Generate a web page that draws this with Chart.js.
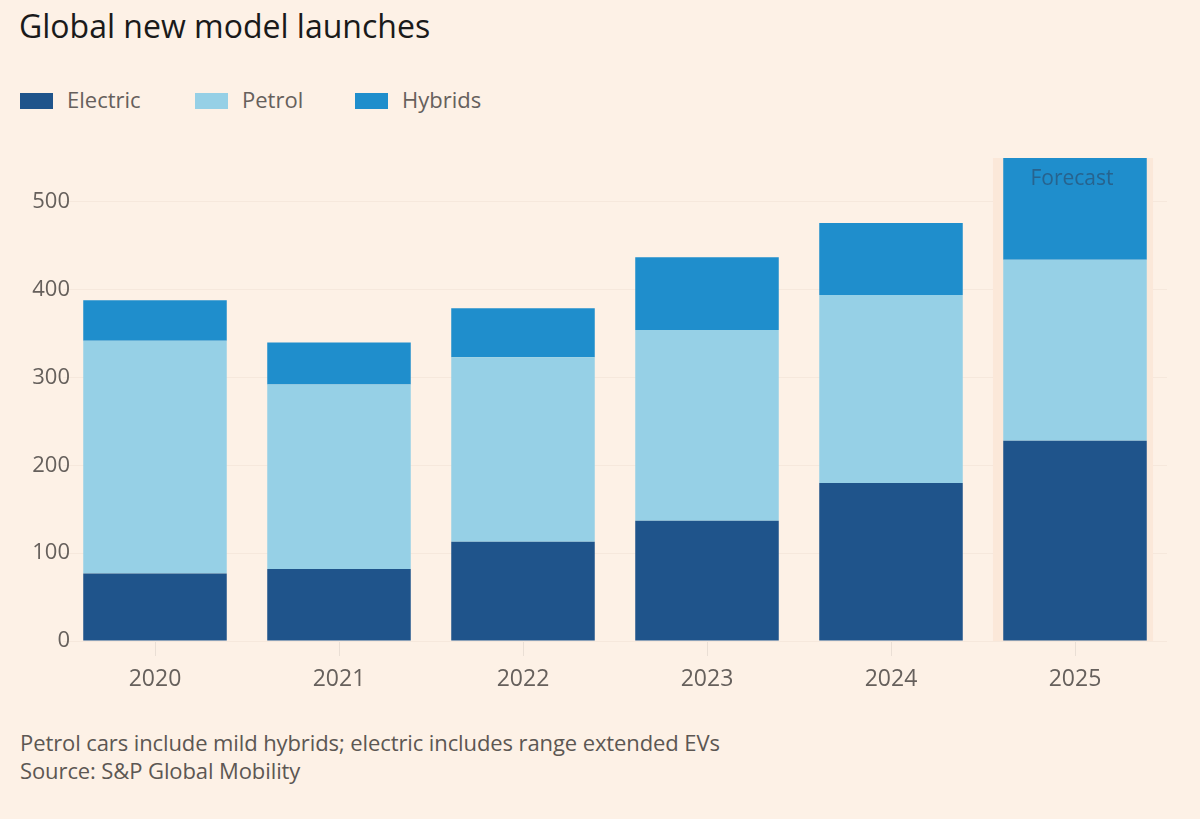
<!DOCTYPE html>
<html lang="en">
  <head>
    <meta charset="utf-8" />
    <title>Global new model launches</title>
    <style>
      * {
        margin: 0;
        padding: 0;
      }
      body {
        width: 1200px;
        height: 819px;
        background: #fdf1e6;
        font-family: "Open Sans", sans-serif;
        position: relative;
        overflow: hidden;
      }
      .title {
        position: absolute;
        left: 19px;
        top: 4px;
        font-size: 32px;
        color: #1a1a1a;
      }
      .legend {
        position: absolute;
        top: 84px;
        left: 20px;
        height: 30px;
        font-size: 22px;
        color: #66605c;
      }
      .legend span {
        position: absolute;
        top: 0;
        white-space: nowrap;
        line-height: 30px;
      }
      .legend i {
        display: inline-block;
        width: 33px;
        height: 16px;
        vertical-align: -1px;
        margin-right: 14px;
      }
      .chartBox {
        position: absolute;
        left: 0;
        top: 130px;
        width: 1200px;
        height: 580px;
      }
      .notes {
        position: absolute;
        left: 20px;
        top: 728px;
        font-size: 22px;
        line-height: 28px;
        color: #5c5753;
        letter-spacing: -0.1px;
      }
    </style>
  </head>
  <body>
    <div class="title">Global new model launches</div>
    <div class="legend" id="legend"></div>
    <div class="chartBox">
      <canvas id="myChart"></canvas>
    </div>
    <div class="notes">
      Petrol cars include mild hybrids; electric includes range extended EVs<br />
      Source: S&amp;P Global Mobility
    </div>

    <script src="https://cdn.jsdelivr.net/npm/chart.js@4/dist/chart.umd.min.js"></script>

    <script>
      // data block
      const years = ["2020", "2021", "2022", "2023", "2024", "2025"];
      const electric = [77, 82, 113, 137, 180, 228];
      const petrol = [265, 210, 210, 217, 214, 206];
      const hybrids = [46, 48, 56, 83, 82, 116];
      const yTicks = [0, 100, 200, 300, 400, 500];
      const forecastYear = "2025";

      const colors = {
        Electric: "#1f548b",
        Petrol: "#96d0e6",
        Hybrids: "#1f8ecc",
      };

      // html legend
      const legendPos = { Electric: 0, Petrol: 175, Hybrids: 335 };
      const legendEl = document.getElementById("legend");
      Object.keys(legendPos).forEach((name) => {
        const s = document.createElement("span");
        s.style.left = legendPos[name] + "px";
        s.innerHTML = '<i style="background:' + colors[name] + '"></i>' + name;
        legendEl.appendChild(s);
      });

      // shaded forecast column + label
      const forecastPlugin = {
        id: "forecast",
        beforeDatasetsDraw(chart) {
          const { ctx, chartArea, scales } = chart;
          const i = years.indexOf(forecastYear);
          const xc = scales.x.getPixelForValue(i);
          const w = (scales.x.width / years.length) * 0.87;
          ctx.save();
          ctx.fillStyle = "#fbe8d9";
          ctx.fillRect(xc - w / 2 - 2, chartArea.top, w, chartArea.bottom - chartArea.top);
          ctx.restore();
        },
        afterDatasetsDraw(chart) {
          const { ctx, scales } = chart;
          const i = years.indexOf(forecastYear);
          const total = electric[i] + petrol[i] + hybrids[i];
          const xc = scales.x.getPixelForValue(i);
          const yTop = scales.y.getPixelForValue(total);
          ctx.save();
          ctx.font = '21px "Open Sans", sans-serif';
          ctx.fillStyle = "rgba(45, 70, 100, 0.6)";
          ctx.textAlign = "center";
          ctx.textBaseline = "middle";
          ctx.fillText("Forecast", xc - 3, yTop + 21);
          ctx.restore();
        },
      };

      // y labels sit slightly over the plot edge, so draw them without the axis clip
      const yLabelPlugin = {
        id: "yLabels",
        afterDraw(chart) {
          const { ctx, scales } = chart;
          const y = scales.y;
          ctx.save();
          ctx.font = '22px "Open Sans", sans-serif';
          ctx.fillStyle = "#66605c";
          ctx.textAlign = "right";
          ctx.textBaseline = "middle";
          y.ticks.forEach((t) => {
            ctx.fillText(String(t.value), y.right + 7, y.getPixelForValue(t.value));
          });
          ctx.restore();
        },
      };

      const data = {
        labels: years,
        datasets: [
          { label: "Electric", data: electric, backgroundColor: colors.Electric },
          { label: "Petrol", data: petrol, backgroundColor: colors.Petrol },
          { label: "Hybrids", data: hybrids, backgroundColor: colors.Hybrids },
        ],
      };

      // config block
      const config = {
        type: "bar",
        data: data,
        plugins: [forecastPlugin, yLabelPlugin],
        options: {
          responsive: true,
          maintainAspectRatio: false,
          animation: false,
          layout: {
            padding: { top: 28, right: 33, left: 0, bottom: 0 },
          },
          datasets: {
            bar: {
              barPercentage: 0.78,
              categoryPercentage: 1,
              borderWidth: 0,
            },
          },
          plugins: {
            legend: { display: false },
            tooltip: { enabled: false },
          },
          scales: {
            x: {
              stacked: true,
              afterFit(scale) {
                scale.height = 69;
              },
              border: { display: false },
              grid: {
                offset: false,
                drawOnChartArea: false,
                drawTicks: true,
                tickLength: 15,
                color: "#eadfd5",
              },
              ticks: {
                padding: 10,
                color: "#66605c",
                font: { family: "Open Sans", size: 23 },
              },
            },
            y: {
              stacked: true,
              min: 0,
              max: 550,
              afterFit(scale) {
                scale.width = 63;
              },
              afterBuildTicks(scale) {
                scale.ticks = yTicks.map((v) => ({ value: v }));
              },
              border: { display: false },
              grid: {
                drawTicks: false,
                color: "#f6e8dc",
              },
              ticks: { display: false },
            },
          },
        },
      };

      // init render block
      const ctx = document.getElementById("myChart");
      const myChart = new Chart(ctx, config);
    </script>
  </body>
</html>
